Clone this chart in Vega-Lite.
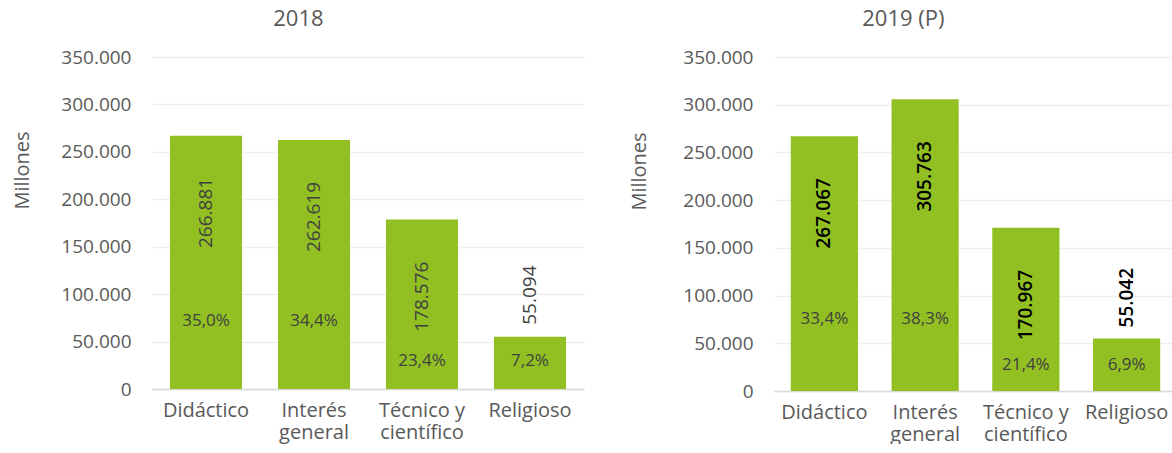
{
  "$schema": "https://vega.github.io/schema/vega-lite/v6.json",
  "padding": {"left": 12, "top": 8, "right": 0, "bottom": 0},
  "background": "white",
  "config": {
    "locale": {"number": {"decimal": ",", "thousands": ".", "grouping": [3], "currency": ["", " €"]}},
    "font": "Open Sans",
    "view": {"stroke": null},
    "concat": {"spacing": 45},
    "title": {"fontSize": 22, "fontWeight": "normal", "color": "#595959", "anchor": "middle", "frame": "bounds", "offset": 17}
  },
  "datasets": {
    "libros": [
      {"anio": "2018", "categoria": "Didáctico", "valor": 266881, "participacion": 0.350},
      {"anio": "2018", "categoria": "Interés general", "valor": 262619, "participacion": 0.344},
      {"anio": "2018", "categoria": "Técnico y científico", "valor": 178576, "participacion": 0.234},
      {"anio": "2018", "categoria": "Religioso", "valor": 55094, "participacion": 0.072},
      {"anio": "2019", "categoria": "Didáctico", "valor": 267067, "participacion": 0.334},
      {"anio": "2019", "categoria": "Interés general", "valor": 305763, "participacion": 0.383},
      {"anio": "2019", "categoria": "Técnico y científico", "valor": 170967, "participacion": 0.214},
      {"anio": "2019", "categoria": "Religioso", "valor": 55042, "participacion": 0.069}
    ]
  },
  "hconcat": [
    {
      "width": 432,
      "height": 332,
      "title": {"text": "2018"},
      "data": {"name": "libros"},
      "transform": [{"filter": "datum.anio == '2018'"}],
      "encoding": {
        "x": {
          "field": "categoria", "type": "nominal", "sort": null,
          "scale": {"paddingInner": 0.333, "paddingOuter": 0.1667},
          "axis": {
            "title": null, "labelAngle": 0, "ticks": false, "domain": true, "domainColor": "#D9D9D9", "domainWidth": 1.5,
            "labelFontSize": 20, "labelColor": "#595959", "labelPadding": 11, "labelLineHeight": 22,
            "labelExpr": "datum.label == 'Interés general' ? ['Interés', 'general'] : datum.label == 'Técnico y científico' ? ['Técnico y', 'científico'] : datum.label"
          }
        }
      },
      "layer": [
        {
          "mark": {"type": "bar", "color": "#92C023"},
          "encoding": {
            "y": {
              "field": "valor", "type": "quantitative",
              "scale": {"domain": [0, 350000], "nice": false},
              "axis": {
                "title": "Millones", "titleFontSize": 20, "titleFontWeight": "normal", "titleColor": "#595959", "titlePadding": 28, "titleY": 113,
                "values": [0, 50000, 100000, 150000, 200000, 250000, 300000, 350000], "format": ",.0f",
                "labelFontSize": 19, "labelColor": "#595959", "labelPadding": 21,
                "ticks": false, "domain": false, "grid": true, "gridColor": "#EEEEEE", "gridWidth": 1.5
              }
            }
          }
        },
        {
          "transform": [{"filter": "datum.categoria != 'Religioso'"}],
          "mark": {"type": "text", "angle": 270, "align": "right", "baseline": "middle", "dx": -42, "fontSize": 19, "color": "#404040"},
          "encoding": {"y": {"field": "valor", "type": "quantitative"}, "text": {"field": "valor", "type": "quantitative", "format": ",.0f"}}
        },
        {
          "transform": [{"filter": "datum.categoria == 'Religioso'"}],
          "mark": {"type": "text", "angle": 270, "align": "left", "baseline": "middle", "dx": 12, "fontSize": 19, "color": "#404040"},
          "encoding": {"y": {"field": "valor", "type": "quantitative"}, "text": {"field": "valor", "type": "quantitative", "format": ",.0f"}}
        },
        {
          "transform": [{"filter": "datum.categoria == 'Didáctico' || datum.categoria == 'Interés general'"}],
          "mark": {"type": "text", "baseline": "middle", "dy": -68, "fontSize": 17, "color": "#404040"},
          "encoding": {"y": {"datum": 0, "type": "quantitative"}, "text": {"field": "participacion", "type": "quantitative", "format": ".1%"}}
        },
        {
          "transform": [{"filter": "datum.categoria == 'Técnico y científico' || datum.categoria == 'Religioso'"}],
          "mark": {"type": "text", "baseline": "middle", "dy": -28, "fontSize": 17, "color": "#404040"},
          "encoding": {"y": {"datum": 0, "type": "quantitative"}, "text": {"field": "participacion", "type": "quantitative", "format": ".1%"}}
        }
      ]
    },
    {
      "width": 403,
      "height": 334,
      "title": {"text": "2019 (P)"},
      "data": {"name": "libros"},
      "transform": [{"filter": "datum.anio == '2019'"}],
      "encoding": {
        "x": {
          "field": "categoria", "type": "nominal", "sort": null,
          "scale": {"paddingInner": 0.333, "paddingOuter": 0.1667},
          "axis": {
            "title": null, "labelAngle": 0, "ticks": false, "domain": true, "domainColor": "#D9D9D9", "domainWidth": 1.5,
            "labelFontSize": 20, "labelColor": "#595959", "labelPadding": 11, "labelLineHeight": 22,
            "labelExpr": "datum.label == 'Interés general' ? ['Interés', 'general'] : datum.label == 'Técnico y científico' ? ['Técnico y', 'científico'] : datum.label"
          }
        }
      },
      "layer": [
        {
          "mark": {"type": "bar", "color": "#92C023"},
          "encoding": {
            "y": {
              "field": "valor", "type": "quantitative",
              "scale": {"domain": [0, 350000], "nice": false},
              "axis": {
                "title": "Millones", "titleFontSize": 20, "titleFontWeight": "normal", "titleColor": "#595959", "titlePadding": 33, "titleY": 114,
                "values": [0, 50000, 100000, 150000, 200000, 250000, 300000, 350000], "format": ",.0f",
                "labelFontSize": 19, "labelColor": "#595959", "labelPadding": 21,
                "ticks": false, "domain": false, "grid": true, "gridColor": "#EEEEEE", "gridWidth": 1.5
              }
            }
          }
        },
        {
          "transform": [{"filter": "datum.categoria != 'Religioso'"}],
          "mark": {"type": "text", "angle": 270, "align": "right", "baseline": "middle", "dx": -42, "fontSize": 19, "fontWeight": 600, "color": "#000000"},
          "encoding": {"y": {"field": "valor", "type": "quantitative"}, "text": {"field": "valor", "type": "quantitative", "format": ",.0f"}}
        },
        {
          "transform": [{"filter": "datum.categoria == 'Religioso'"}],
          "mark": {"type": "text", "angle": 270, "align": "left", "baseline": "middle", "dx": 11, "fontSize": 19, "fontWeight": 600, "color": "#000000"},
          "encoding": {"y": {"field": "valor", "type": "quantitative"}, "text": {"field": "valor", "type": "quantitative", "format": ",.0f"}}
        },
        {
          "transform": [{"filter": "datum.categoria == 'Didáctico' || datum.categoria == 'Interés general'"}],
          "mark": {"type": "text", "baseline": "middle", "dy": -72, "fontSize": 17, "color": "#404040"},
          "encoding": {"y": {"datum": 0, "type": "quantitative"}, "text": {"field": "participacion", "type": "quantitative", "format": ".1%"}}
        },
        {
          "transform": [{"filter": "datum.categoria == 'Técnico y científico' || datum.categoria == 'Religioso'"}],
          "mark": {"type": "text", "baseline": "middle", "dy": -26, "fontSize": 17, "color": "#404040"},
          "encoding": {"y": {"datum": 0, "type": "quantitative"}, "text": {"field": "participacion", "type": "quantitative", "format": ".1%"}}
        }
      ]
    }
  ]
}
